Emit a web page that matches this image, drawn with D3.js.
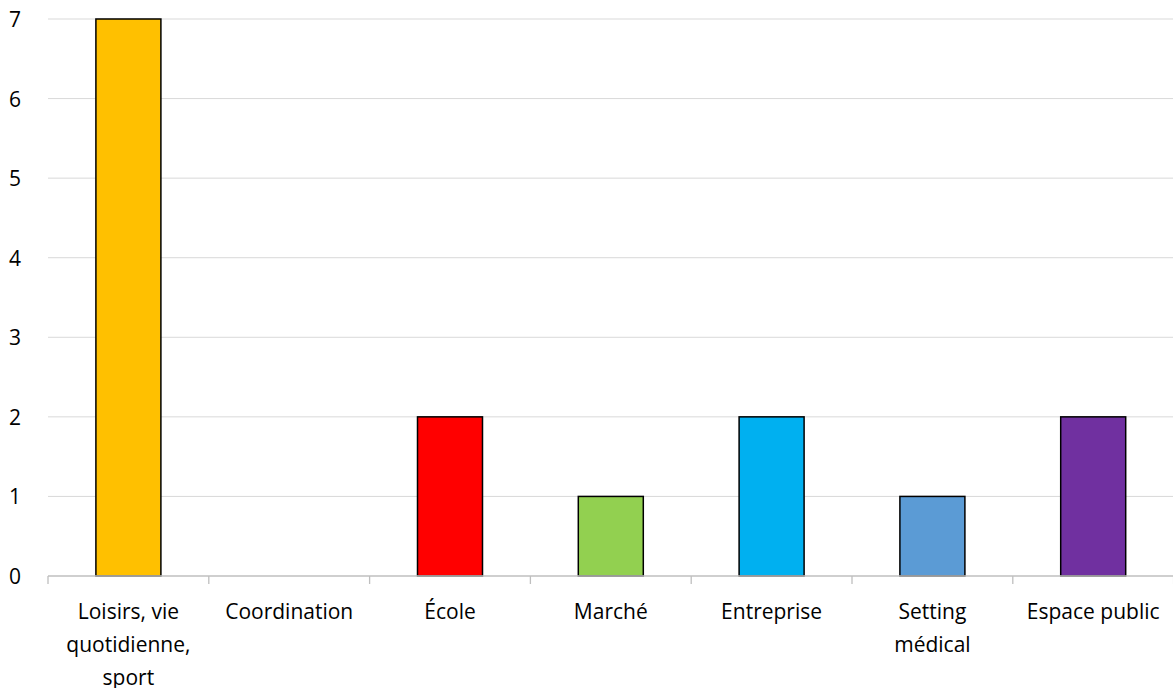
<!DOCTYPE html>
<html>
<head>
<meta charset="utf-8">
<script src="https://cdn.jsdelivr.net/npm/d3@7"></script>
<style>
  body { margin: 0; background: #fff; }
  svg text { font-family: "Open Sans", "Noto Sans", sans-serif; fill: #000; }
</style>
</head>
<body>
<svg id="chart"></svg>
<script>
var categories = [["Loisirs, vie", "quotidienne,", "sport"], ["Coordination"], ["École"], ["Marché"], ["Entreprise"], ["Setting", "médical"], ["Espace public"]];
var values = [7, 0, 2, 1, 2, 1, 2];
var colors = ["#FFC000", "#FFC000", "#FF0000", "#92D050", "#00B0F0", "#5B9BD5", "#7030A0"];
var yTicks = [0, 1, 2, 3, 4, 5, 6, 7];

var svgWidth = 1173, svgHeight = 688;
var margin = {top: 19, right: 0, bottom: 112, left: 48};
var chartWidth = 1125.6;
var chartHeight = svgHeight - margin.top - margin.bottom;

var chart = d3.select("#chart")
    .attr("width", svgWidth)
    .attr("height", svgHeight);

var keys = d3.range(categories.length);

var xScale = d3.scaleBand()
    .domain(keys)
    .range([margin.left, margin.left + chartWidth]);

var yScale = d3.scaleLinear()
    .domain([0, 7])
    .range([margin.top + chartHeight, margin.top]);

// gridlines
chart.append("g")
    .selectAll("line")
    .data(yTicks.slice(1))
    .enter()
    .append("line")
    .attr("x1", margin.left)
    .attr("x2", margin.left + chartWidth)
    .attr("y1", function(d){ return yScale(d) })
    .attr("y2", function(d){ return yScale(d) })
    .attr("stroke", "#d9d9d9")
    .attr("stroke-width", 1);

// y labels
chart.append("g")
    .selectAll("text")
    .data(yTicks)
    .enter()
    .append("text")
    .attr("x", 21)
    .attr("y", function(d){ return yScale(d) + 8 })
    .attr("text-anchor", "end")
    .style("font-size", "21px")
    .text(function(d){ return d });

// bars (skip zero values)
var barWidth = 65;
var barData = keys.filter(function(i){ return values[i] > 0 });
chart.selectAll("rect.bar")
    .data(barData)
    .enter()
    .append("rect")
    .attr("class", "bar")
    .attr("x", function(i){ return xScale(i) + xScale.bandwidth()/2 - barWidth/2 })
    .attr("y", function(i){ return yScale(values[i]) })
    .attr("width", barWidth)
    .attr("height", function(i){ return yScale(0) - yScale(values[i]) })
    .attr("fill", function(i){ return colors[i] })
    .attr("stroke", "#000")
    .attr("stroke-width", 1.5);

// x axis
var xAxis = chart.append("g");
xAxis.append("line")
    .attr("x1", margin.left)
    .attr("x2", margin.left + chartWidth)
    .attr("y1", yScale(0))
    .attr("y2", yScale(0))
    .attr("stroke", "#bfbfbf")
    .attr("stroke-width", 1.3);

xAxis.selectAll("line.tick")
    .data(keys.concat([keys.length]))
    .enter()
    .append("line")
    .attr("class", "tick")
    .attr("x1", function(d){ return margin.left + d * xScale.bandwidth() })
    .attr("x2", function(d){ return margin.left + d * xScale.bandwidth() })
    .attr("y1", yScale(0))
    .attr("y2", yScale(0) + 8)
    .attr("stroke", "#bfbfbf")
    .attr("stroke-width", 1.3);

var labels = xAxis.selectAll("text")
    .data(categories)
    .enter()
    .append("text")
    .attr("text-anchor", "middle")
    .style("font-size", "21px")
    .attr("x", function(d, i){ return xScale(i) + xScale.bandwidth()/2 });

labels.selectAll("tspan")
    .data(function(d){ return d })
    .enter()
    .append("tspan")
    .attr("x", function(){ return d3.select(this.parentNode).attr("x") })
    .attr("y", function(d, j){ return 619 + j * 33 })
    .text(function(d){ return d });
</script>
</body>
</html>
